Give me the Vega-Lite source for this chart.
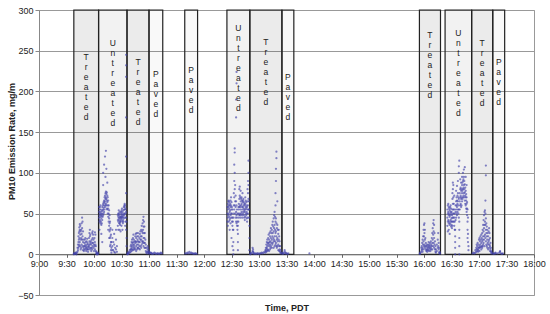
{
"$schema": "https://vega.github.io/schema/vega-lite/v6.json",
"width": 495, "height": 285,
"autosize": {"type": "none"},
"padding": {"left": 39, "top": 10, "right": 16, "bottom": 19},
"config": {"font": "Liberation Sans", "view": {"stroke": "#999", "strokeWidth": 1}, "axis": {"labelOverlap": false, "labelBound": false, "labelFlush": false}},
"datasets": {
"zones": [
{"type":"Treated","start":578,"end":605,"ly":247},
{"type":"Untreated","start":605,"end":636,"ly":264},
{"type":"Treated","start":636,"end":660,"ly":241},
{"type":"Paved","start":660,"end":675,"ly":226},
{"type":"Paved","start":699,"end":713,"ly":231},
{"type":"Untreated","start":745,"end":770,"ly":283},
{"type":"Treated","start":770,"end":805,"ly":266},
{"type":"Paved","start":805,"end":818,"ly":223},
{"type":"Treated","start":955,"end":978,"ly":274},
{"type":"Untreated","start":983,"end":1012,"ly":277},
{"type":"Treated","start":1012,"end":1035,"ly":264},
{"type":"Paved","start":1035,"end":1048,"ly":241}
],
"pm": [
{"t":578,"v":0},{"t":578,"v":1},{"t":579,"v":1},{"t":579,"v":0.5},{"t":580,"v":1},{"t":580,"v":2},{"t":581,"v":2},{"t":581,"v":0},{"t":582,"v":3},{"t":582,"v":8},
{"t":582.5,"v":12},{"t":582.5,"v":5},{"t":583,"v":15},{"t":583,"v":22},{"t":583,"v":8},{"t":583.5,"v":26},{"t":583.5,"v":18},{"t":583.5,"v":10},
{"t":584,"v":33},{"t":584,"v":28},{"t":584,"v":20},{"t":584,"v":12},{"t":584.5,"v":37},{"t":584.5,"v":30},{"t":584.5,"v":15},
{"t":585,"v":35},{"t":585,"v":24},{"t":585,"v":10},{"t":585.5,"v":28},{"t":585.5,"v":18},{"t":585.5,"v":6},
{"t":586,"v":20},{"t":586,"v":30},{"t":586,"v":8},{"t":586.5,"v":38},{"t":586.5,"v":25},{"t":586.5,"v":12},
{"t":587,"v":45},{"t":587,"v":32},{"t":587,"v":18},{"t":587.5,"v":40},{"t":587.5,"v":22},{"t":587.5,"v":10},
{"t":588,"v":28},{"t":588,"v":15},{"t":588,"v":5},{"t":588.5,"v":18},{"t":588.5,"v":8},{"t":589,"v":10},{"t":589,"v":4},
{"t":589.5,"v":14},{"t":589.5,"v":6},{"t":590,"v":18},{"t":590,"v":10},{"t":590.5,"v":20},{"t":590.5,"v":12},{"t":590.5,"v":6},
{"t":591,"v":15},{"t":591,"v":8},{"t":591.5,"v":10},{"t":591.5,"v":4},{"t":592,"v":8},{"t":592,"v":16},
{"t":592.5,"v":19},{"t":592.5,"v":12},{"t":592.5,"v":6},{"t":593,"v":14},{"t":593,"v":6},{"t":593.5,"v":9},{"t":593.5,"v":3},
{"t":594,"v":12},{"t":594,"v":6},{"t":594.5,"v":20},{"t":594.5,"v":10},{"t":595,"v":26},{"t":595,"v":16},{"t":595,"v":8},
{"t":595.5,"v":30},{"t":595.5,"v":22},{"t":595.5,"v":12},{"t":596,"v":24},{"t":596,"v":14},{"t":596,"v":6},
{"t":596.5,"v":16},{"t":596.5,"v":8},{"t":597,"v":12},{"t":597,"v":4},{"t":597.5,"v":18},{"t":597.5,"v":8},
{"t":598,"v":26},{"t":598,"v":14},{"t":598,"v":6},{"t":598.5,"v":28},{"t":598.5,"v":20},{"t":598.5,"v":10},
{"t":599,"v":24},{"t":599,"v":14},{"t":599.5,"v":18},{"t":599.5,"v":8},{"t":600,"v":12},{"t":600,"v":4},
{"t":600.5,"v":20},{"t":600.5,"v":10},{"t":601,"v":27},{"t":601,"v":15},{"t":601,"v":6},{"t":601.5,"v":24},{"t":601.5,"v":12},
{"t":602,"v":10},{"t":602,"v":4},{"t":602.5,"v":3},{"t":602.5,"v":1},{"t":603,"v":1},{"t":603,"v":0},{"t":603.5,"v":1},{"t":604,"v":0},{"t":604,"v":2},{"t":604.5,"v":1},
{"t":605.5,"v":45},{"t":605.5,"v":52},{"t":605.5,"v":58},{"t":606,"v":55},{"t":606,"v":48},{"t":606,"v":40},{"t":606,"v":30},
{"t":606.5,"v":58},{"t":606.5,"v":50},{"t":606.5,"v":42},{"t":607,"v":52},{"t":607,"v":46},{"t":607,"v":38},{"t":607,"v":60},
{"t":607.5,"v":55},{"t":607.5,"v":48},{"t":607.5,"v":40},{"t":608,"v":50},{"t":608,"v":44},{"t":608,"v":36},{"t":608,"v":25},
{"t":608.5,"v":53},{"t":608.5,"v":47},{"t":608.5,"v":38},{"t":609,"v":58},{"t":609,"v":50},{"t":609,"v":42},{"t":609,"v":15},
{"t":609.5,"v":60},{"t":609.5,"v":54},{"t":609.5,"v":46},{"t":610,"v":62},{"t":610,"v":55},{"t":610,"v":48},{"t":610,"v":85},{"t":610,"v":100},
{"t":610.5,"v":64},{"t":610.5,"v":57},{"t":610.5,"v":50},{"t":611,"v":66},{"t":611,"v":60},{"t":611,"v":52},{"t":611,"v":110},
{"t":611.5,"v":70},{"t":611.5,"v":63},{"t":611.5,"v":55},{"t":612,"v":72},{"t":612,"v":65},{"t":612,"v":58},{"t":612,"v":120},
{"t":612.5,"v":75},{"t":612.5,"v":68},{"t":612.5,"v":60},{"t":612.5,"v":95},{"t":613,"v":77},{"t":613,"v":70},{"t":613,"v":62},{"t":613,"v":127},
{"t":613.5,"v":74},{"t":613.5,"v":68},{"t":613.5,"v":60},{"t":613.5,"v":105},{"t":614,"v":76},{"t":614,"v":66},{"t":614,"v":56},
{"t":614.5,"v":72},{"t":614.5,"v":64},{"t":614.5,"v":55},{"t":614.5,"v":88},{"t":615,"v":70},{"t":615,"v":60},{"t":615,"v":50},
{"t":615.5,"v":66},{"t":615.5,"v":56},{"t":615.5,"v":46},{"t":615.5,"v":30},{"t":616,"v":60},{"t":616,"v":50},{"t":616,"v":40},
{"t":616.5,"v":54},{"t":616.5,"v":44},{"t":616.5,"v":35},{"t":616.5,"v":20},{"t":617,"v":48},{"t":617,"v":38},{"t":617,"v":28},
{"t":617.5,"v":40},{"t":617.5,"v":30},{"t":617.5,"v":20},{"t":617.5,"v":10},{"t":618,"v":32},{"t":618,"v":22},{"t":618,"v":12},
{"t":618.5,"v":24},{"t":618.5,"v":15},{"t":618.5,"v":5},{"t":619,"v":15},{"t":619,"v":8},{"t":619,"v":2},
{"t":620,"v":30},{"t":620,"v":20},{"t":620,"v":10},{"t":620,"v":5},{"t":621,"v":15},{"t":621,"v":5},{"t":622,"v":25},{"t":622,"v":12},{"t":622,"v":3},
{"t":623,"v":8},{"t":623,"v":2},{"t":624,"v":30},{"t":624,"v":18},{"t":624,"v":6},{"t":625,"v":10},{"t":625,"v":3},
{"t":626,"v":35},{"t":626,"v":42},{"t":626,"v":48},{"t":626.5,"v":40},{"t":626.5,"v":46},{"t":626.5,"v":50},{"t":626.5,"v":30},
{"t":627,"v":44},{"t":627,"v":50},{"t":627,"v":54},{"t":627.5,"v":42},{"t":627.5,"v":48},{"t":627.5,"v":38},
{"t":628,"v":38},{"t":628,"v":45},{"t":628,"v":52},{"t":628,"v":30},{"t":628.5,"v":40},{"t":628.5,"v":46},{"t":628.5,"v":36},
{"t":629,"v":44},{"t":629,"v":50},{"t":629,"v":40},{"t":629,"v":28},{"t":629.5,"v":46},{"t":629.5,"v":52},{"t":629.5,"v":42},
{"t":630,"v":48},{"t":630,"v":54},{"t":630,"v":44},{"t":630,"v":35},{"t":630.5,"v":50},{"t":630.5,"v":56},{"t":630.5,"v":46},
{"t":631,"v":45},{"t":631,"v":52},{"t":631,"v":40},{"t":631,"v":30},{"t":631.5,"v":42},{"t":631.5,"v":48},{"t":631.5,"v":38},
{"t":632,"v":46},{"t":632,"v":54},{"t":632,"v":40},{"t":632.5,"v":50},{"t":632.5,"v":58},{"t":632.5,"v":44},
{"t":633,"v":55},{"t":633,"v":60},{"t":633,"v":48},{"t":633.5,"v":58},{"t":633.5,"v":62},{"t":633.5,"v":50},
{"t":634,"v":55},{"t":634,"v":60},{"t":634,"v":45},{"t":634,"v":35},{"t":634.5,"v":50},{"t":634.5,"v":56},{"t":634.5,"v":40},
{"t":635,"v":45},{"t":635,"v":52},{"t":635,"v":30},{"t":635,"v":75},{"t":635,"v":120},{"t":635,"v":168},{"t":635,"v":218},{"t":635,"v":232},{"t":635,"v":245},
{"t":635.5,"v":40},{"t":635.5,"v":20},{"t":635.5,"v":10},
{"t":636.5,"v":1},{"t":636.5,"v":0},{"t":637,"v":2},{"t":637,"v":0.5},{"t":638,"v":1},{"t":638,"v":3},{"t":639,"v":2},{"t":639,"v":5},
{"t":640,"v":6},{"t":640,"v":10},{"t":640,"v":3},{"t":640.5,"v":12},{"t":640.5,"v":6},{"t":641,"v":15},{"t":641,"v":8},{"t":641,"v":4},
{"t":641.5,"v":18},{"t":641.5,"v":10},{"t":642,"v":14},{"t":642,"v":6},{"t":642.5,"v":20},{"t":642.5,"v":12},{"t":642.5,"v":5},
{"t":643,"v":24},{"t":643,"v":15},{"t":643,"v":8},{"t":643.5,"v":18},{"t":643.5,"v":10},{"t":644,"v":12},{"t":644,"v":6},
{"t":644.5,"v":16},{"t":644.5,"v":8},{"t":645,"v":22},{"t":645,"v":14},{"t":645,"v":6},{"t":645.5,"v":25},{"t":645.5,"v":16},
{"t":646,"v":20},{"t":646,"v":10},{"t":646,"v":4},{"t":646.5,"v":26},{"t":646.5,"v":15},{"t":647,"v":22},{"t":647,"v":12},{"t":647,"v":6},
{"t":647.5,"v":18},{"t":647.5,"v":8},{"t":648,"v":26},{"t":648,"v":16},{"t":648,"v":8},{"t":648.5,"v":22},{"t":648.5,"v":12},
{"t":649,"v":15},{"t":649,"v":7},{"t":649.5,"v":20},{"t":649.5,"v":10},{"t":650,"v":25},{"t":650,"v":15},{"t":650,"v":6},
{"t":650.5,"v":28},{"t":650.5,"v":18},{"t":651,"v":22},{"t":651,"v":10},{"t":651.5,"v":30},{"t":651.5,"v":18},{"t":651.5,"v":8},
{"t":652,"v":35},{"t":652,"v":22},{"t":652,"v":12},{"t":652.5,"v":28},{"t":652.5,"v":16},{"t":653,"v":38},{"t":653,"v":26},{"t":653,"v":14},
{"t":653.5,"v":42},{"t":653.5,"v":30},{"t":653.5,"v":16},{"t":654,"v":46},{"t":654,"v":34},{"t":654,"v":20},{"t":654,"v":10},
{"t":654.5,"v":40},{"t":654.5,"v":26},{"t":654.5,"v":14},{"t":655,"v":34},{"t":655,"v":20},{"t":655,"v":8},
{"t":655.5,"v":26},{"t":655.5,"v":14},{"t":656,"v":18},{"t":656,"v":8},{"t":656.5,"v":12},{"t":656.5,"v":4},{"t":657,"v":8},{"t":657,"v":2},
{"t":658,"v":3},{"t":658,"v":1},{"t":658.5,"v":10},{"t":658.5,"v":6},{"t":659,"v":8},{"t":659,"v":3},{"t":659.5,"v":5},{"t":659.5,"v":2},{"t":660,"v":3},{"t":660,"v":1},
{"t":660.5,"v":1},{"t":661,"v":2},{"t":662,"v":2},{"t":662.5,"v":1},{"t":663,"v":1},{"t":664,"v":0.5},{"t":665,"v":1},{"t":666,"v":2},{"t":667,"v":1},{"t":668,"v":0.5},{"t":669,"v":1},{"t":670,"v":1},{"t":671,"v":0.5},{"t":672,"v":1},{"t":673,"v":2},{"t":674,"v":1},
{"t":699.5,"v":1},{"t":701,"v":1},{"t":702,"v":2},{"t":703,"v":1},{"t":704,"v":3},{"t":705,"v":1},{"t":706,"v":2},{"t":707,"v":1},{"t":708,"v":1},{"t":709,"v":0.5},{"t":710,"v":1},{"t":711,"v":1},{"t":712,"v":0.5},
{"t":745.5,"v":40},{"t":745.5,"v":50},{"t":745.5,"v":58},{"t":746,"v":45},{"t":746,"v":55},{"t":746,"v":62},{"t":746,"v":35},
{"t":746.5,"v":48},{"t":746.5,"v":58},{"t":746.5,"v":65},{"t":747,"v":50},{"t":747,"v":60},{"t":747,"v":66},{"t":747,"v":40},
{"t":747.5,"v":46},{"t":747.5,"v":56},{"t":747.5,"v":64},{"t":748,"v":42},{"t":748,"v":52},{"t":748,"v":60},{"t":748,"v":30},
{"t":748.5,"v":44},{"t":748.5,"v":54},{"t":748.5,"v":62},{"t":749,"v":48},{"t":749,"v":58},{"t":749,"v":66},{"t":749,"v":38},
{"t":749.5,"v":50},{"t":749.5,"v":60},{"t":749.5,"v":70},{"t":750,"v":45},{"t":750,"v":55},{"t":750,"v":64},{"t":750,"v":20},
{"t":750.5,"v":40},{"t":750.5,"v":50},{"t":750.5,"v":58},{"t":751,"v":35},{"t":751,"v":45},{"t":751,"v":55},{"t":751,"v":10},
{"t":751.5,"v":30},{"t":751.5,"v":40},{"t":752,"v":0},{"t":752,"v":5},{"t":752,"v":15},{"t":752,"v":30},{"t":752,"v":45},
{"t":752.5,"v":50},{"t":752.5,"v":60},{"t":752.5,"v":75},{"t":753,"v":55},{"t":753,"v":70},{"t":753,"v":90},{"t":753,"v":110},
{"t":753.5,"v":60},{"t":753.5,"v":80},{"t":753.5,"v":100},{"t":753.5,"v":125},{"t":753.5,"v":130},{"t":754,"v":50},{"t":754,"v":65},{"t":754,"v":85},
{"t":754.5,"v":45},{"t":754.5,"v":58},{"t":754.5,"v":72},{"t":755,"v":40},{"t":755,"v":52},{"t":755,"v":65},{"t":755,"v":168},{"t":755,"v":190},
{"t":755.5,"v":38},{"t":755.5,"v":48},{"t":755.5,"v":60},{"t":755.5,"v":210},{"t":755.5,"v":224},{"t":756,"v":35},{"t":756,"v":45},{"t":756,"v":55},
{"t":756.5,"v":30},{"t":756.5,"v":40},{"t":756.5,"v":50},{"t":757,"v":5},{"t":757,"v":15},{"t":757,"v":25},{"t":757,"v":35},
{"t":757.5,"v":40},{"t":757.5,"v":50},{"t":757.5,"v":58},{"t":758,"v":45},{"t":758,"v":55},{"t":758,"v":62},
{"t":758.5,"v":48},{"t":758.5,"v":58},{"t":758.5,"v":68},{"t":758.5,"v":80},{"t":759,"v":50},{"t":759,"v":60},{"t":759,"v":72},{"t":759,"v":83},
{"t":759.5,"v":48},{"t":759.5,"v":58},{"t":759.5,"v":70},{"t":760,"v":45},{"t":760,"v":55},{"t":760,"v":65},{"t":760,"v":78},
{"t":760.5,"v":50},{"t":760.5,"v":60},{"t":760.5,"v":68},{"t":761,"v":52},{"t":761,"v":62},{"t":761,"v":70},
{"t":761.5,"v":48},{"t":761.5,"v":58},{"t":761.5,"v":66},{"t":762,"v":45},{"t":762,"v":55},{"t":762,"v":64},{"t":762,"v":75},
{"t":762.5,"v":50},{"t":762.5,"v":58},{"t":762.5,"v":66},{"t":763,"v":52},{"t":763,"v":60},{"t":763,"v":68},
{"t":763.5,"v":48},{"t":763.5,"v":56},{"t":763.5,"v":64},{"t":764,"v":45},{"t":764,"v":54},{"t":764,"v":62},
{"t":764.5,"v":42},{"t":764.5,"v":52},{"t":764.5,"v":60},{"t":765,"v":46},{"t":765,"v":55},{"t":765,"v":62},{"t":765,"v":70},
{"t":765.5,"v":50},{"t":765.5,"v":58},{"t":765.5,"v":66},{"t":766,"v":48},{"t":766,"v":56},{"t":766,"v":64},
{"t":766.5,"v":44},{"t":766.5,"v":52},{"t":766.5,"v":60},{"t":767,"v":40},{"t":767,"v":50},{"t":767,"v":58},
{"t":767.5,"v":45},{"t":767.5,"v":55},{"t":767.5,"v":65},{"t":767.5,"v":80},{"t":768,"v":50},{"t":768,"v":60},{"t":768,"v":75},{"t":768,"v":90},
{"t":768.5,"v":55},{"t":768.5,"v":68},{"t":768.5,"v":85},{"t":768.5,"v":100},{"t":768.5,"v":115},{"t":769,"v":45},{"t":769,"v":55},{"t":769,"v":65},
{"t":769.5,"v":35},{"t":769.5,"v":20},{"t":769.5,"v":5},
{"t":770.5,"v":1},{"t":770.5,"v":0},{"t":771,"v":2},{"t":772,"v":1},{"t":773,"v":4},{"t":773,"v":8},{"t":773.5,"v":6},{"t":773.5,"v":3},{"t":774,"v":2},{"t":774,"v":1},
{"t":775,"v":0.5},{"t":776,"v":1},{"t":777,"v":0.5},{"t":778,"v":1},{"t":779,"v":1},{"t":780,"v":0.5},{"t":781,"v":1},{"t":782,"v":1},{"t":783,"v":2},{"t":784,"v":1},{"t":785,"v":2},{"t":786,"v":3},
{"t":787,"v":5},{"t":787,"v":2},{"t":787.5,"v":8},{"t":787.5,"v":4},{"t":788,"v":12},{"t":788,"v":6},{"t":788,"v":3},{"t":788.5,"v":15},{"t":788.5,"v":8},
{"t":789,"v":18},{"t":789,"v":10},{"t":789,"v":4},{"t":789.5,"v":14},{"t":789.5,"v":6},{"t":790,"v":20},{"t":790,"v":12},{"t":790,"v":5},
{"t":790.5,"v":24},{"t":790.5,"v":14},{"t":791,"v":18},{"t":791,"v":10},{"t":791,"v":4},{"t":791.5,"v":26},{"t":791.5,"v":15},
{"t":792,"v":22},{"t":792,"v":12},{"t":792,"v":6},{"t":792.5,"v":28},{"t":792.5,"v":16},{"t":792.5,"v":8},{"t":793,"v":32},{"t":793,"v":20},{"t":793,"v":10},
{"t":793.5,"v":26},{"t":793.5,"v":14},{"t":794,"v":30},{"t":794,"v":18},{"t":794,"v":8},{"t":794.5,"v":36},{"t":794.5,"v":22},{"t":794.5,"v":12},
{"t":795,"v":40},{"t":795,"v":26},{"t":795,"v":14},{"t":795.5,"v":34},{"t":795.5,"v":20},{"t":796,"v":44},{"t":796,"v":28},{"t":796,"v":16},{"t":796,"v":8},
{"t":796.5,"v":48},{"t":796.5,"v":32},{"t":796.5,"v":18},{"t":797,"v":52},{"t":797,"v":36},{"t":797,"v":22},{"t":797,"v":10},
{"t":797.5,"v":46},{"t":797.5,"v":30},{"t":797.5,"v":16},{"t":798,"v":40},{"t":798,"v":26},{"t":798,"v":12},{"t":798,"v":60},{"t":798,"v":75},
{"t":798.5,"v":44},{"t":798.5,"v":28},{"t":798.5,"v":14},{"t":798.5,"v":90},{"t":798.5,"v":105},{"t":799,"v":38},{"t":799,"v":22},{"t":799,"v":10},{"t":799,"v":118},{"t":799,"v":126},
{"t":799.5,"v":32},{"t":799.5,"v":18},{"t":799.5,"v":8},{"t":800,"v":36},{"t":800,"v":20},{"t":800,"v":10},{"t":800,"v":65},
{"t":800.5,"v":30},{"t":800.5,"v":16},{"t":801,"v":25},{"t":801,"v":12},{"t":801,"v":5},{"t":801.5,"v":30},{"t":801.5,"v":18},
{"t":802,"v":22},{"t":802,"v":10},{"t":802,"v":4},{"t":802.5,"v":16},{"t":802.5,"v":6},{"t":803,"v":10},{"t":803,"v":3},{"t":803.5,"v":5},{"t":803.5,"v":1},
{"t":804,"v":2},{"t":805,"v":1},{"t":806,"v":0.5},{"t":806,"v":2},{"t":807,"v":1},{"t":808,"v":3},{"t":808,"v":5},{"t":809,"v":2},{"t":809,"v":1},{"t":810,"v":1},{"t":811,"v":0.5},{"t":812,"v":1},
{"t":835,"v":1},
{"t":955.5,"v":1},{"t":955.5,"v":0.5},{"t":956,"v":2},{"t":957,"v":3},{"t":957,"v":8},{"t":957.5,"v":10},{"t":957.5,"v":5},{"t":958,"v":14},{"t":958,"v":6},
{"t":958.5,"v":18},{"t":958.5,"v":8},{"t":958.5,"v":3},{"t":959,"v":22},{"t":959,"v":12},{"t":959.5,"v":30},{"t":959.5,"v":16},{"t":959.5,"v":6},
{"t":960,"v":36},{"t":960,"v":22},{"t":960,"v":10},{"t":960.5,"v":38},{"t":960.5,"v":26},{"t":960.5,"v":12},{"t":961,"v":30},{"t":961,"v":18},{"t":961,"v":8},
{"t":961.5,"v":20},{"t":961.5,"v":10},{"t":962,"v":14},{"t":962,"v":6},{"t":962.5,"v":10},{"t":962.5,"v":4},{"t":963,"v":12},{"t":963,"v":5},
{"t":963.5,"v":8},{"t":963.5,"v":3},{"t":964,"v":6},{"t":964,"v":10},{"t":964.5,"v":12},{"t":964.5,"v":5},{"t":965,"v":15},{"t":965,"v":8},
{"t":965.5,"v":10},{"t":965.5,"v":4},{"t":966,"v":8},{"t":966,"v":12},{"t":966.5,"v":14},{"t":966.5,"v":6},{"t":967,"v":10},{"t":967,"v":4},
{"t":967.5,"v":16},{"t":967.5,"v":8},{"t":968,"v":12},{"t":968,"v":6},{"t":968.5,"v":20},{"t":968.5,"v":10},{"t":969,"v":26},{"t":969,"v":14},{"t":969,"v":6},
{"t":969.5,"v":32},{"t":969.5,"v":18},{"t":970,"v":38},{"t":970,"v":24},{"t":970,"v":10},{"t":970.5,"v":42},{"t":970.5,"v":28},{"t":970.5,"v":14},
{"t":971,"v":36},{"t":971,"v":20},{"t":971,"v":8},{"t":971.5,"v":26},{"t":971.5,"v":12},{"t":972,"v":16},{"t":972,"v":6},{"t":972.5,"v":10},{"t":972.5,"v":3},
{"t":973,"v":6},{"t":973,"v":2},{"t":974,"v":12},{"t":974,"v":4},{"t":975,"v":18},{"t":975,"v":8},{"t":975.5,"v":26},{"t":975.5,"v":10},
{"t":976,"v":14},{"t":976,"v":6},{"t":976.5,"v":8},{"t":976.5,"v":2},{"t":977,"v":3},{"t":977,"v":1},{"t":977.5,"v":1},
{"t":985.5,"v":35},{"t":985.5,"v":45},{"t":985.5,"v":55},{"t":986,"v":40},{"t":986,"v":50},{"t":986,"v":60},{"t":986,"v":28},
{"t":986.5,"v":42},{"t":986.5,"v":52},{"t":986.5,"v":62},{"t":987,"v":38},{"t":987,"v":48},{"t":987,"v":58},{"t":987,"v":30},
{"t":987.5,"v":40},{"t":987.5,"v":50},{"t":987.5,"v":56},{"t":988,"v":36},{"t":988,"v":46},{"t":988,"v":54},{"t":988,"v":25},
{"t":988.5,"v":38},{"t":988.5,"v":48},{"t":988.5,"v":58},{"t":989,"v":42},{"t":989,"v":52},{"t":989,"v":60},
{"t":989.5,"v":40},{"t":989.5,"v":50},{"t":989.5,"v":56},{"t":989.5,"v":34},{"t":990,"v":36},{"t":990,"v":44},{"t":990,"v":52},
{"t":990.5,"v":32},{"t":990.5,"v":40},{"t":990.5,"v":48},{"t":991,"v":35},{"t":991,"v":45},{"t":991,"v":55},{"t":991,"v":68},{"t":991,"v":75},
{"t":991.5,"v":40},{"t":991.5,"v":50},{"t":991.5,"v":62},{"t":991.5,"v":80},{"t":991.5,"v":88},{"t":992,"v":45},{"t":992,"v":55},{"t":992,"v":70},{"t":992,"v":85},
{"t":992.5,"v":40},{"t":992.5,"v":50},{"t":992.5,"v":62},{"t":993,"v":35},{"t":993,"v":45},{"t":993,"v":55},{"t":993,"v":72},
{"t":993.5,"v":30},{"t":993.5,"v":40},{"t":993.5,"v":50},{"t":994,"v":0},{"t":994,"v":8},{"t":994,"v":15},{"t":994,"v":22},{"t":994,"v":30},
{"t":994.5,"v":42},{"t":994.5,"v":52},{"t":994.5,"v":60},{"t":995,"v":45},{"t":995,"v":55},{"t":995,"v":65},{"t":995,"v":78},
{"t":995.5,"v":50},{"t":995.5,"v":60},{"t":995.5,"v":70},{"t":996,"v":48},{"t":996,"v":58},{"t":996,"v":66},{"t":996,"v":84},
{"t":996.5,"v":52},{"t":996.5,"v":62},{"t":996.5,"v":72},{"t":997,"v":55},{"t":997,"v":65},{"t":997,"v":75},{"t":997,"v":90},
{"t":997.5,"v":50},{"t":997.5,"v":60},{"t":997.5,"v":70},{"t":998,"v":45},{"t":998,"v":55},{"t":998,"v":68},{"t":998,"v":100},{"t":998,"v":108},
{"t":998.5,"v":0},{"t":998.5,"v":10},{"t":998.5,"v":20},{"t":998.5,"v":30},{"t":998.5,"v":40},{"t":998.5,"v":115},
{"t":999,"v":55},{"t":999,"v":65},{"t":999,"v":75},{"t":999.5,"v":60},{"t":999.5,"v":70},{"t":999.5,"v":80},{"t":999.5,"v":92},
{"t":1000,"v":62},{"t":1000,"v":72},{"t":1000,"v":82},{"t":1000.5,"v":58},{"t":1000.5,"v":68},{"t":1000.5,"v":78},{"t":1000.5,"v":88},
{"t":1001,"v":60},{"t":1001,"v":70},{"t":1001,"v":80},{"t":1001.5,"v":65},{"t":1001.5,"v":75},{"t":1001.5,"v":85},{"t":1001.5,"v":95},
{"t":1002,"v":68},{"t":1002,"v":78},{"t":1002,"v":88},{"t":1002.5,"v":70},{"t":1002.5,"v":80},{"t":1002.5,"v":90},{"t":1002.5,"v":100},
{"t":1003,"v":72},{"t":1003,"v":82},{"t":1003,"v":92},{"t":1003.5,"v":75},{"t":1003.5,"v":85},{"t":1003.5,"v":95},{"t":1003.5,"v":104},
{"t":1004,"v":70},{"t":1004,"v":80},{"t":1004,"v":90},{"t":1004.5,"v":66},{"t":1004.5,"v":76},{"t":1004.5,"v":86},{"t":1004.5,"v":107},
{"t":1005,"v":62},{"t":1005,"v":72},{"t":1005,"v":82},{"t":1005.5,"v":60},{"t":1005.5,"v":70},{"t":1005.5,"v":78},{"t":1005.5,"v":95},
{"t":1006,"v":56},{"t":1006,"v":66},{"t":1006,"v":74},{"t":1006.5,"v":52},{"t":1006.5,"v":62},{"t":1006.5,"v":70},{"t":1006.5,"v":85},
{"t":1007,"v":48},{"t":1007,"v":56},{"t":1007,"v":64},{"t":1007.5,"v":40},{"t":1007.5,"v":30},{"t":1007.5,"v":20},{"t":1007.5,"v":55},
{"t":1008,"v":25},{"t":1008,"v":15},{"t":1008,"v":45},{"t":1008.5,"v":10},{"t":1008.5,"v":5},
{"t":1013,"v":1},{"t":1014,"v":2},{"t":1015,"v":1},{"t":1016,"v":2},{"t":1016,"v":5},{"t":1017,"v":8},{"t":1017,"v":3},{"t":1017.5,"v":12},{"t":1017.5,"v":6},
{"t":1018,"v":10},{"t":1018,"v":4},{"t":1018.5,"v":14},{"t":1018.5,"v":6},{"t":1019,"v":8},{"t":1019,"v":3},{"t":1019.5,"v":12},{"t":1019.5,"v":5},
{"t":1020,"v":18},{"t":1020,"v":8},{"t":1020.5,"v":20},{"t":1020.5,"v":10},{"t":1020.5,"v":4},{"t":1021,"v":16},{"t":1021,"v":8},
{"t":1021.5,"v":22},{"t":1021.5,"v":12},{"t":1022,"v":18},{"t":1022,"v":9},{"t":1022.5,"v":24},{"t":1022.5,"v":14},{"t":1022.5,"v":6},
{"t":1023,"v":20},{"t":1023,"v":10},{"t":1023.5,"v":26},{"t":1023.5,"v":16},{"t":1023.5,"v":8},{"t":1024,"v":30},{"t":1024,"v":18},{"t":1024,"v":10},
{"t":1024.5,"v":36},{"t":1024.5,"v":22},{"t":1024.5,"v":12},{"t":1025,"v":42},{"t":1025,"v":28},{"t":1025,"v":14},
{"t":1025.5,"v":48},{"t":1025.5,"v":32},{"t":1025.5,"v":18},{"t":1026,"v":52},{"t":1026,"v":36},{"t":1026,"v":22},{"t":1026,"v":10},
{"t":1026.5,"v":54},{"t":1026.5,"v":40},{"t":1026.5,"v":24},{"t":1027,"v":50},{"t":1027,"v":36},{"t":1027,"v":20},{"t":1027,"v":66},
{"t":1027.5,"v":44},{"t":1027.5,"v":30},{"t":1027.5,"v":16},{"t":1027.5,"v":97},{"t":1027.5,"v":109},{"t":1028,"v":38},{"t":1028,"v":26},{"t":1028,"v":12},
{"t":1028.5,"v":34},{"t":1028.5,"v":22},{"t":1028.5,"v":10},{"t":1029,"v":30},{"t":1029,"v":18},{"t":1029,"v":8},{"t":1029.5,"v":26},{"t":1029.5,"v":14},
{"t":1030,"v":22},{"t":1030,"v":12},{"t":1030,"v":6},{"t":1030.5,"v":28},{"t":1030.5,"v":16},{"t":1031,"v":32},{"t":1031,"v":18},{"t":1031,"v":8},
{"t":1031.5,"v":26},{"t":1031.5,"v":12},{"t":1032,"v":20},{"t":1032,"v":10},{"t":1032,"v":4},{"t":1032.5,"v":14},{"t":1032.5,"v":6},
{"t":1033,"v":8},{"t":1033,"v":3},{"t":1033.5,"v":4},{"t":1033.5,"v":1},{"t":1034,"v":2},{"t":1035,"v":1},{"t":1036,"v":0.5},{"t":1037,"v":1},{"t":1038,"v":1},{"t":1038,"v":2},
{"t":1040,"v":1},{"t":1042,"v":2},{"t":1043,"v":4},{"t":1043,"v":3},{"t":1044,"v":1},{"t":1045,"v":0.5},{"t":1046,"v":1}
]
},
"layer": [
{
"data": {"name": "zones"},
"mark": {"type": "rect", "stroke": "#222", "strokeWidth": 1.2, "fill": "#000"},
"encoding": {
"x": {"field": "start", "type": "quantitative", "scale": {"domain": [540, 1080], "nice": false},
"axis": {"values": [540,570,600,630,660,690,720,750,780,810,840,870,900,930,960,990,1020,1050,1080], "tickCount": 19,
"labelExpr": "floor(datum.value / 60) + ':' + (datum.value % 60 == 0 ? '00' : '30')",
"offset": -40.7, "grid": false, "domainColor": "#666", "tickColor": "#666", "tickSize": 3,
"labelFontSize": 9, "labelColor": "#222", "labelPadding": 2, "labelOverlap": false,
"title": "Time, PDT", "titleFontSize": 9, "titleFontWeight": "bold", "titleColor": "#222", "titleY": 53, "titleBaseline": "middle"}},
"x2": {"field": "end"},
"y": {"datum": 0, "type": "quantitative", "scale": {"domain": [-50, 300], "nice": false},
"axis": {"values": [-50,0,50,100,150,200,250,300], "grid": true, "gridColor": "#999", "gridWidth": 1,
"domainColor": "#888", "tickColor": "#888", "tickSize": 4, "labelFontSize": 9, "labelColor": "#222", "labelPadding": 2, "labelOverlap": false,
"title": "PM10 Emission Rate, mg/m", "titleFontSize": 9, "titleFontWeight": "bold", "titleColor": "#222",
"titleX": -28, "titleY": 131, "titleBaseline": "middle"}},
"y2": {"datum": 300},
"fillOpacity": {"field": "type", "type": "nominal", "scale": {"domain": ["Treated", "Untreated", "Paved"], "range": [0.08, 0.025, 0]}, "legend": null}
}
},
{
"data": {"name": "zones"},
"transform": [
{"calculate": "(datum.start + datum.end) / 2", "as": "mid"},
{"calculate": "join(split(datum.type, ''), '\\n')", "as": "label"}
],
"mark": {"type": "text", "align": "center", "baseline": "top", "fontSize": 8.5, "lineHeight": 10, "lineBreak": "\n", "fill": "#222"},
"encoding": {
"x": {"field": "mid", "type": "quantitative",
"axis": {"values": [540,570,600,630,660,690,720,750,780,810,840,870,900,930,960,990,1020,1050,1080], "tickCount": 19,
"labelExpr": "floor(datum.value / 60) + ':' + (datum.value % 60 == 0 ? '00' : '30')",
"offset": -40.7, "grid": false, "domainColor": "#666", "tickColor": "#666", "tickSize": 3,
"labelFontSize": 9, "labelColor": "#222", "labelPadding": 2, "labelOverlap": false,
"title": "Time, PDT", "titleFontSize": 9, "titleFontWeight": "bold", "titleColor": "#222", "titleY": 53, "titleBaseline": "middle"}},
"y": {"field": "ly", "type": "quantitative",
"axis": {"values": [-50,0,50,100,150,200,250,300], "grid": true, "gridColor": "#999", "gridWidth": 1,
"domainColor": "#888", "tickColor": "#888", "tickSize": 4, "labelFontSize": 9, "labelColor": "#222", "labelPadding": 2, "labelOverlap": false,
"title": "PM10 Emission Rate, mg/m", "titleFontSize": 9, "titleFontWeight": "bold", "titleColor": "#222",
"titleX": -28, "titleY": 131, "titleBaseline": "middle"}},
"text": {"field": "label"}
}
},
{
"data": {"name": "pm"},
"mark": {"type": "circle", "size": 5, "color": "#4444aa", "opacity": 0.65},
"encoding": {
"x": {"field": "t", "type": "quantitative",
"axis": {"values": [540,570,600,630,660,690,720,750,780,810,840,870,900,930,960,990,1020,1050,1080], "tickCount": 19,
"labelExpr": "floor(datum.value / 60) + ':' + (datum.value % 60 == 0 ? '00' : '30')",
"offset": -40.7, "grid": false, "domainColor": "#666", "tickColor": "#666", "tickSize": 3,
"labelFontSize": 9, "labelColor": "#222", "labelPadding": 2, "labelOverlap": false,
"title": "Time, PDT", "titleFontSize": 9, "titleFontWeight": "bold", "titleColor": "#222", "titleY": 53, "titleBaseline": "middle"}},
"y": {"field": "v", "type": "quantitative",
"axis": {"values": [-50,0,50,100,150,200,250,300], "grid": true, "gridColor": "#999", "gridWidth": 1,
"domainColor": "#888", "tickColor": "#888", "tickSize": 4, "labelFontSize": 9, "labelColor": "#222", "labelPadding": 2, "labelOverlap": false,
"title": "PM10 Emission Rate, mg/m", "titleFontSize": 9, "titleFontWeight": "bold", "titleColor": "#222",
"titleX": -28, "titleY": 131, "titleBaseline": "middle"}}
}
}
]
}
